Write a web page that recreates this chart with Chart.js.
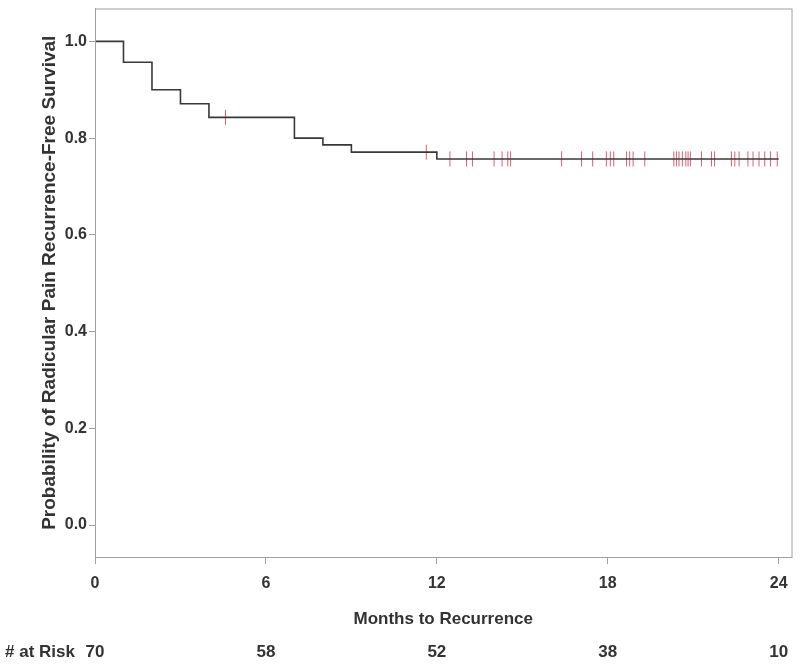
<!DOCTYPE html>
<html>
<head>
<meta charset="utf-8">
<script src="https://cdn.jsdelivr.net/npm/chart.js@4.4.1/dist/chart.umd.min.js"></script>
<style>
  html, body { margin: 0; padding: 0; background: #fff; }
  #wrap { width: 800px; height: 664px; }
</style>
</head>
<body>
<div id="wrap"><canvas id="kmChart" width="800" height="664"></canvas></div>
<script>
// Kaplan-Meier step points (months, survival probability)
var stepMonths   = [0, 1, 2, 3, 4, 7, 8, 9, 12, 24];
var stepSurvival = [1.0, 0.957, 0.900, 0.871, 0.843, 0.800, 0.786, 0.771, 0.757, 0.757];

// censored observations
var censorMonths = [4.58, 11.63, 12.46, 13.04, 13.25, 14.01, 14.29, 14.49, 14.59, 16.38,
  17.08, 17.47, 17.95, 18.09, 18.21, 18.66, 18.77, 18.89, 19.30, 20.32, 20.41, 20.50,
  20.62, 20.74, 20.82, 20.90, 21.29, 21.64, 21.75, 22.34, 22.46, 22.61, 22.92, 23.10,
  23.31, 23.51, 23.71, 23.95];
var censorSurvival = [0.843, 0.771, 0.757, 0.757, 0.757, 0.757, 0.757, 0.757, 0.757, 0.757,
  0.757, 0.757, 0.757, 0.757, 0.757, 0.757, 0.757, 0.757, 0.757, 0.757, 0.757, 0.757,
  0.757, 0.757, 0.757, 0.757, 0.757, 0.757, 0.757, 0.757, 0.757, 0.757, 0.757, 0.757,
  0.757, 0.757, 0.757, 0.757];

var xTicks = [0, 6, 12, 18, 24];
var yTicks = [0, 0.2, 0.4, 0.6, 0.8, 1.0];
var atRisk = [70, 58, 52, 38, 10];

var FONT = '"Liberation Sans", Arial, sans-serif';
var TEXT = '#333333';

//- box around the plot + number at risk row -
var framePlugin = {
  id: 'frame',
  afterDraw: function (chart) {
    var ctx = chart.ctx, a = chart.chartArea, x = chart.scales.x;
    ctx.save();
    ctx.strokeStyle = '#a0a0a0';
    ctx.lineWidth = 1;
    ctx.strokeRect(a.left + 0.5, a.top + 0.5, a.right - a.left, a.bottom - a.top);

    ctx.fillStyle = TEXT;
    ctx.font = 'bold 17px ' + FONT;
    ctx.textBaseline = 'middle';
    ctx.textAlign = 'left';
    ctx.fillText('# at Risk', 5, 652);
    ctx.textAlign = 'center';
    for (var i = 0; i < atRisk.length; i++) {
      ctx.fillText(String(atRisk[i]), x.getPixelForValue(xTicks[i]), 652);
    }
    ctx.restore();
  }
};

var curveData = stepMonths.map(function (m, i) { return {x: m, y: stepSurvival[i]}; });
var censorData = censorMonths.map(function (m, i) { return {x: m, y: censorSurvival[i]}; });

var ctx = document.getElementById('kmChart').getContext('2d');
new Chart(ctx, {
  type: 'line',
  data: {
    datasets: [
      {
        label: 'Survival',
        data: curveData,
        stepped: true,
        borderColor: '#383838',
        borderWidth: 1.6,
        pointRadius: 0,
        fill: false
      },
      {
        label: 'Censored',
        data: censorData,
        showLine: false,
        pointStyle: 'line',
        rotation: 90,
        pointRadius: 7.5,
        borderColor: 'rgba(215, 55, 75, 0.8)',
        borderWidth: 1
      }
    ]
  },
  options: {
    responsive: false,
    animation: false,
    events: [],
    layout: { padding: { top: 5, right: 8, left: 0, bottom: 0 } },
    plugins: { legend: { display: false }, tooltip: { enabled: false } },
    scales: {
      x: {
        type: 'linear',
        min: 0,
        max: 24.45,
        afterBuildTicks: function (axis) { axis.ticks = xTicks.map(function (v) { return {value: v}; }); },
        afterFit: function (axis) { axis.height = 107; axis.paddingLeft = 0; axis.paddingRight = 0; },
        grid: { drawOnChartArea: false, drawTicks: true, tickLength: 7, color: '#a0a0a0' },
        border: { display: true, color: '#a0a0a0' },
        ticks: { padding: 10, color: TEXT, font: { family: FONT, size: 16, weight: 'bold' } },
        title: {
          display: true,
          text: 'Months to Recurrence',
          color: TEXT,
          font: { family: FONT, size: 17, weight: 'bold' },
          padding: { top: 0, bottom: 34 }
        }
      },
      y: {
        type: 'linear',
        min: -0.066,
        max: 1.068,
        afterBuildTicks: function (axis) { axis.ticks = yTicks.map(function (v) { return {value: v}; }); },
        afterFit: function (axis) { axis.width = 95; axis.paddingTop = 0; axis.paddingBottom = 0; },
        grid: { drawOnChartArea: false, drawTicks: true, tickLength: 6, color: '#a0a0a0' },
        border: { display: true, color: '#a0a0a0' },
        ticks: {
          padding: 2,
          color: TEXT,
          font: { family: FONT, size: 16, weight: 'bold' },
          callback: function (v) { return v.toFixed(1); }
        },
        title: {
          display: true,
          text: 'Probability of Radicular Pain Recurrence-Free Survival',
          color: TEXT,
          font: { family: FONT, size: 19, weight: 'bold' },
          padding: { top: 38, bottom: 0 }
        }
      }
    }
  },
  plugins: [framePlugin]
});
</script>
</body>
</html>
